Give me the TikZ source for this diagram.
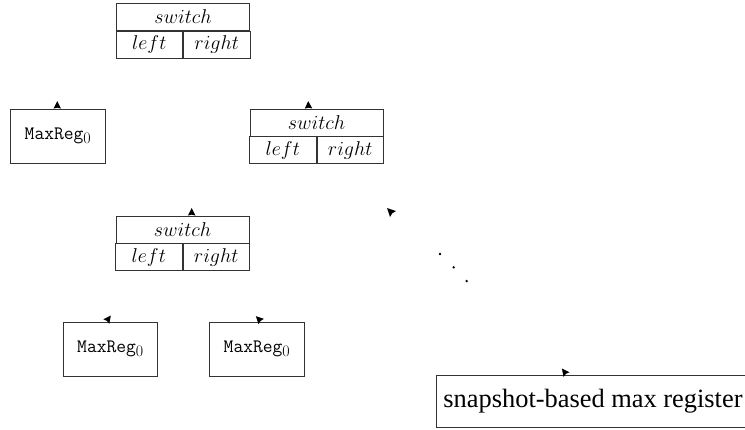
\RequirePackage{fix-cm}
\documentclass[tikz,border=0pt]{standalone}
\usepackage{fontspec}
\newfontfamily\timesfont{Liberation Serif}
\usetikzlibrary{calc}
\newcommand{\swbox}[3]{%
  \node[swtop] (#1) at (#2,#3) {$switch$};
  \node[swcell, anchor=north east] (#1l) at (#1.south) {$left$};
  \node[swcell, anchor=north west] (#1r) at (#1.south) {$right$};
}
\newcommand{\mregtext}{MaxReg\raisebox{-0.45ex}{\fontsize{16}{16}\selectfont\rmfamily 0}}
% arrowhead whose base centre is #1 and whose apex is #1 + (#2,#3)
\newcommand{\tipmark}[3]{%
  \fill[tipfill] ($(#1)+(#2,#3)$) -- ($(#1)+({-0.5*(#3)},{0.5*(#2)})$)
    -- ($(#1)+({0.12*(#2)},{0.12*(#3)})$) -- ($(#1)+({0.5*(#3)},{-0.5*(#2)})$) -- cycle;}
\begin{document}
\begin{tikzpicture}[x=1pt,y=-1pt,
  boxline/.style={draw=black!80, line width=0.9pt, inner sep=0pt},
  swtop/.style={boxline, minimum width=133pt, minimum height=27pt, font=\fontsize{20}{24}\selectfont},
  swcell/.style={boxline, minimum width=66.5pt, minimum height=27pt, font=\fontsize{20}{24}\selectfont},
  mreg/.style={boxline, minimum width=94.5pt, minimum height=54pt, font=\fontsize{19}{22}\selectfont\ttfamily},
  snapbox/.style={boxline, anchor=west, minimum height=52pt, inner xsep=7.5pt, font=\fontsize{26.4}{30}\selectfont\timesfont},
  tipfill/.style={fill=black},
  dot/.style={fill=black}
]
\useasboundingbox (0,0) rectangle (745,429);

% switches
\swbox{sa}{183}{17}
\swbox{sb}{316.5}{122.5}
\swbox{sc}{182.5}{229.5}

% max registers
\node[mreg] (ma) at (57.75,136) {\mregtext};
\node[mreg] (mb) at (110.25,349) {\mregtext};
\node[mreg] (mc) at (256.75,349) {\mregtext};

% snapshot-based
\node[snapbox] (snap) at (435.5,401) {snapshot-based max register};

% arrowhead anchor points
\coordinate (hid) at (393,214);
\coordinate (ta) at ([xshift=-0.5pt]ma.north);
\coordinate (tb) at ([xshift=-8pt]sb.north);
\coordinate (tc) at ([xshift=9.2pt]sc.north);
\coordinate (td) at ([xshift=-4pt]mb.north);
\coordinate (te) at ([xshift=4.5pt]mc.north);
\coordinate (tf) at ($(snap.north west)+(131,0)$);

% arrowheads only
\tipmark{ta}{0}{-7.5}
\tipmark{tb}{-0.3}{-7.5}
\tipmark{tc}{0}{-7.5}
\tipmark{hid}{-6}{-6}
\tipmark{td}{4.6}{-6}
\tipmark{te}{-5.4}{-5.4}
\tipmark{tf}{-4.6}{-6}

% dots
\fill[dot] (440,254) circle (1.3pt);
\fill[dot] (453.7,267.3) circle (1.3pt);
\fill[dot] (466.7,281) circle (1.3pt);
\end{tikzpicture}
\end{document}
